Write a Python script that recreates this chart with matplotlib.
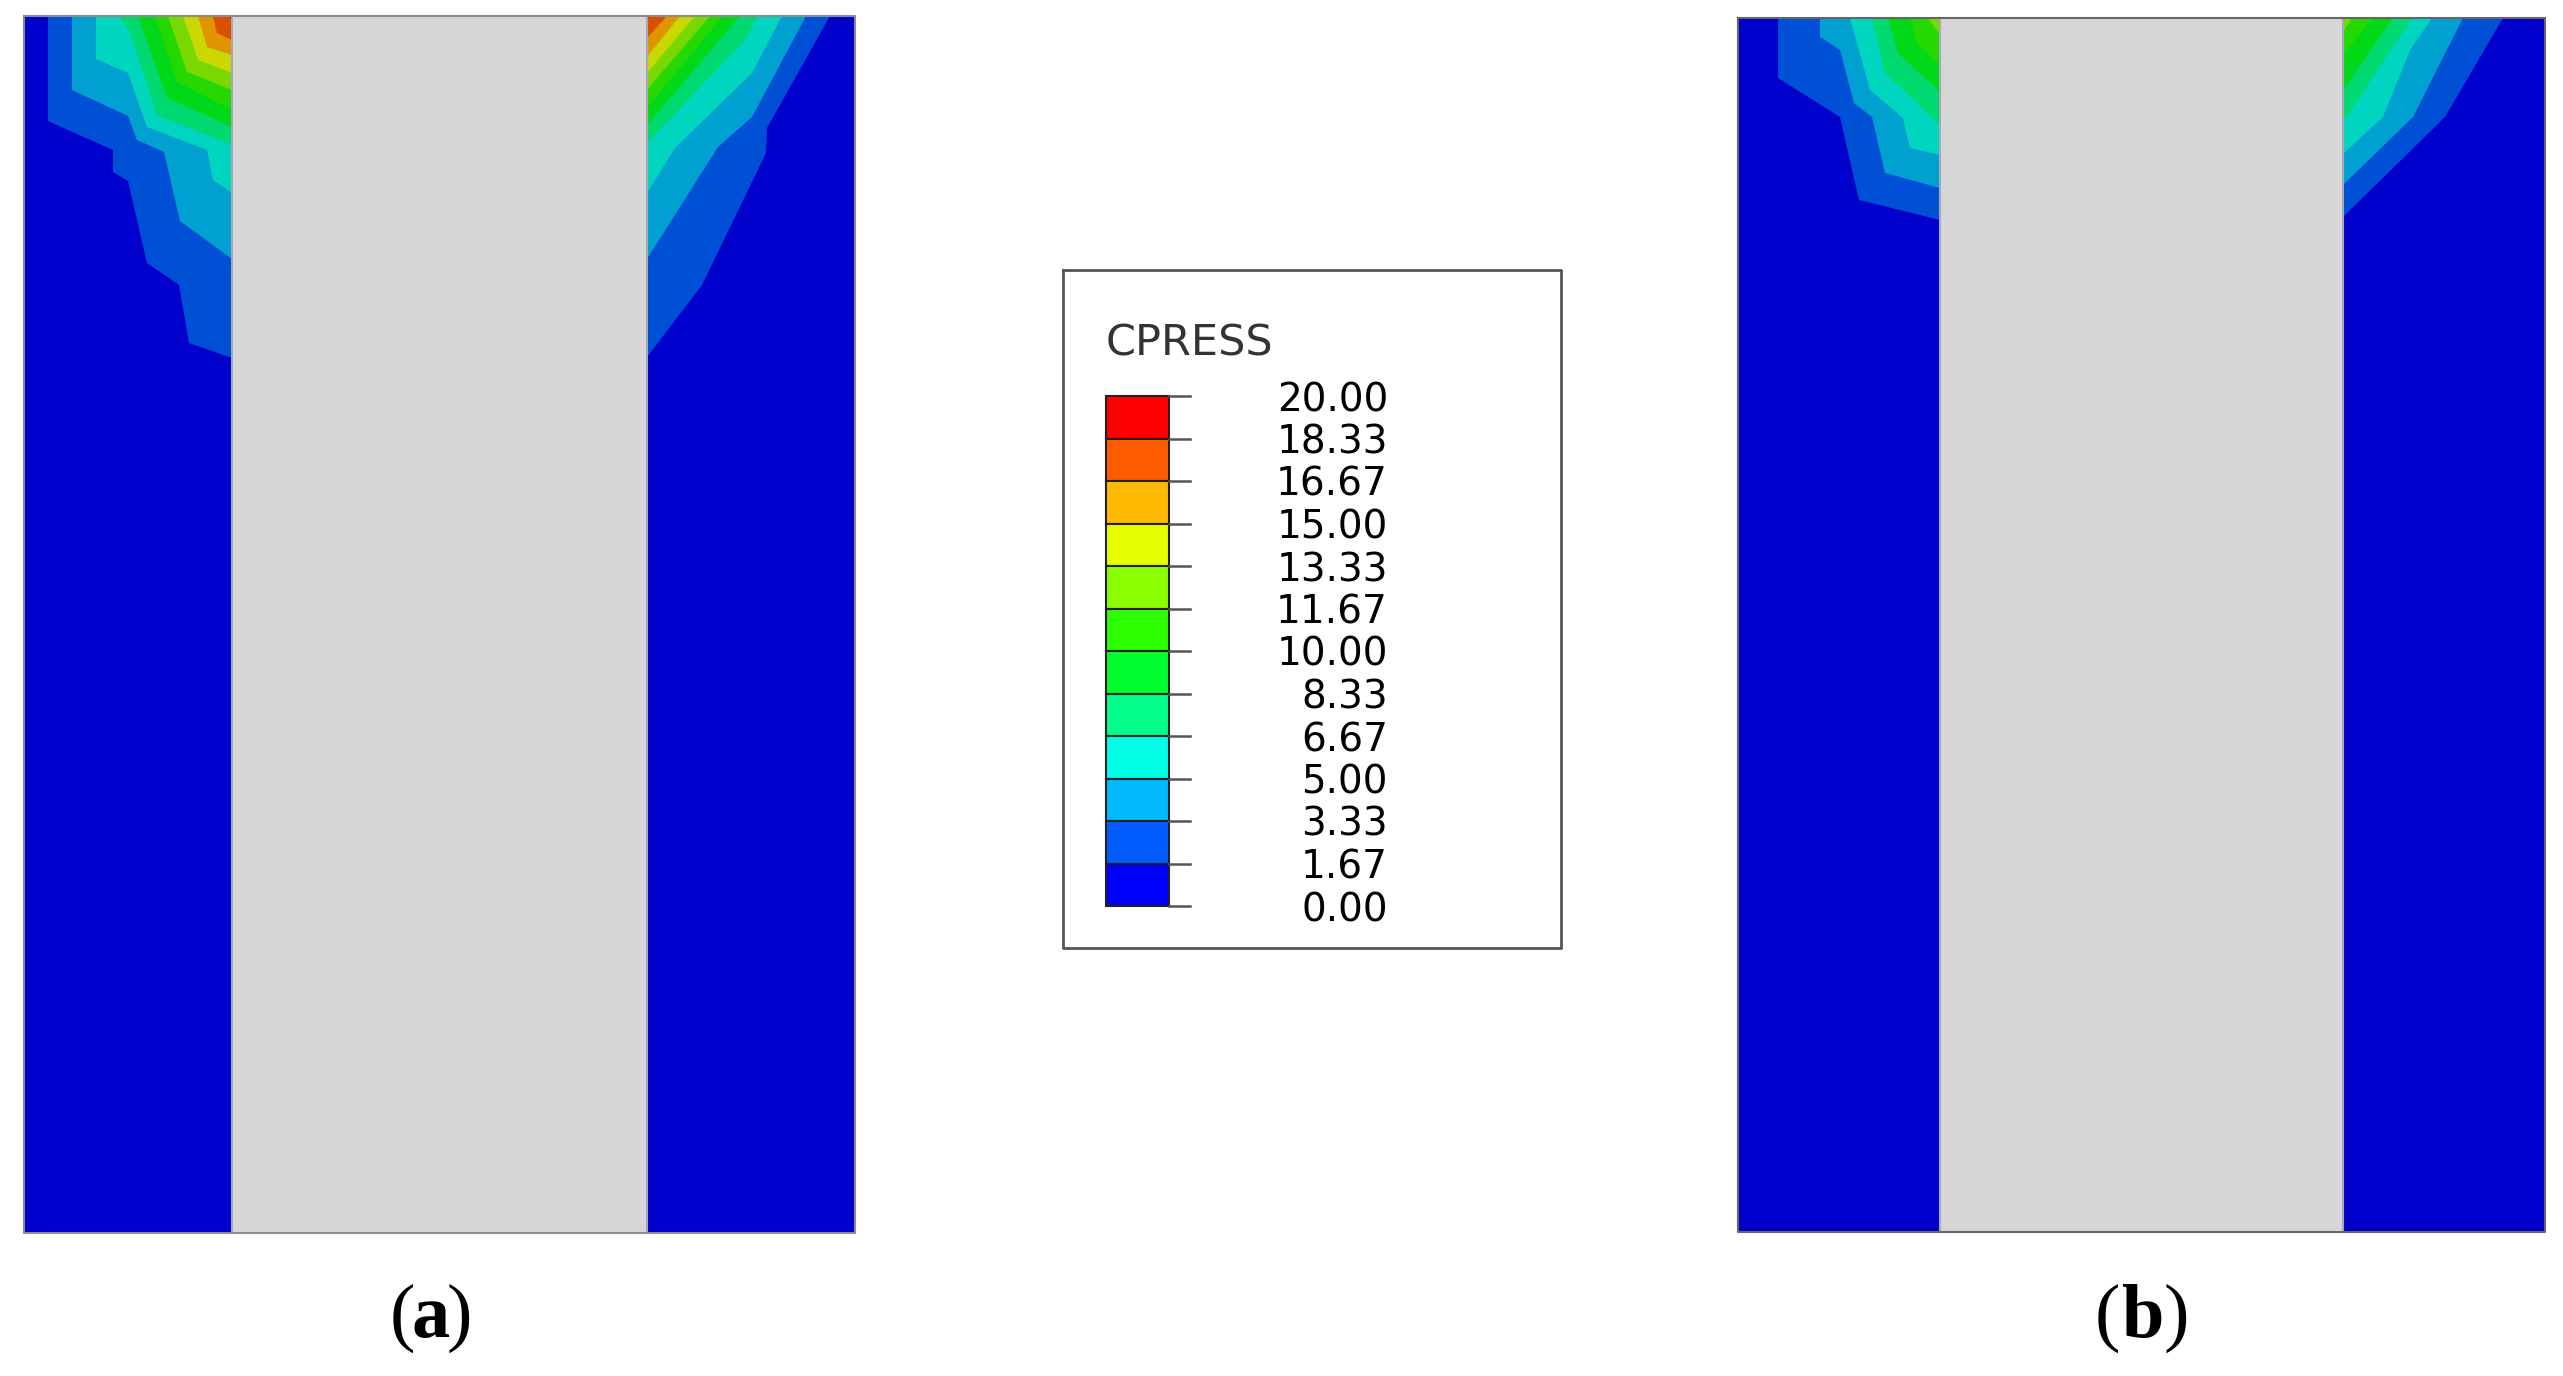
import matplotlib
matplotlib.use('Agg')
import matplotlib.pyplot as plt

# contour bands, low to high
band_colors = ['#0050d5', '#00a0d0', '#00d5c0', '#00d870', '#00d818', '#25d800',
               '#78d800', '#c8d800', '#e09500', '#d85000', '#d80000']
base_color = '#0000cd'
pile_color = '#d6d6d6'

# contour lines (x, y in pixels), one list per level
a_left = [
    [(48, 16), (48, 121), (113, 150), (113, 172), (128, 181), (147, 263), (179, 285), (189, 343), (232, 358)],
    [(72, 16), (72, 90), (128, 116), (137, 140), (164, 152), (180, 221), (232, 259)],
    [(96, 16), (96, 59), (128, 73), (147, 127), (207, 150), (213, 180), (232, 193)],
    [(120, 16), (131, 35), (157, 115), (232, 145)],
    [(138, 16), (167, 98), (232, 127)],
    [(155, 16), (177, 82), (232, 110)],
    [(168, 16), (187, 72), (232, 90)],
    [(183, 16), (198, 60), (232, 73)],
    [(198, 16), (207, 47), (232, 55)],
    [(213, 16), (217, 33), (232, 40)],
    [(228, 16), (232, 20)],
]
a_right = [
    [(830, 16), (767, 128), (766, 153), (702, 285), (647, 357)],
    [(806, 16), (752, 117), (718, 147), (647, 259)],
    [(782, 16), (752, 73), (675, 148), (647, 193)],
    [(758, 16), (745, 40), (647, 143)],
    [(740, 16), (647, 125)],
    [(723, 16), (647, 108)],
    [(710, 16), (647, 90)],
    [(695, 16), (647, 73)],
    [(680, 16), (647, 57)],
    [(667, 16), (647, 38)],
    [(650, 16), (647, 20)],
]
b_left = [
    [(1778, 18), (1778, 78), (1840, 117), (1859, 200), (1940, 220)],
    [(1820, 18), (1820, 37), (1840, 50), (1854, 103), (1872, 117), (1885, 173), (1940, 188)],
    [(1850, 18), (1870, 90), (1903, 118), (1910, 148), (1940, 155)],
    [(1872, 18), (1885, 73), (1940, 125)],
    [(1888, 18), (1898, 53), (1940, 92)],
    [(1910, 18), (1917, 43), (1940, 65)],
    [(1928, 18), (1940, 35)],
]
b_right = [
    [(2503, 18), (2445, 117), (2343, 217)],
    [(2463, 18), (2413, 117), (2343, 185)],
    [(2432, 18), (2410, 50), (2383, 117), (2343, 154)],
    [(2412, 18), (2343, 122)],
    [(2393, 18), (2343, 90)],
    [(2373, 18), (2343, 55)],
    [(2352, 18), (2343, 32)],
]

# legend
legend_title = 'CPRESS'
legend_labels = ['20.00', '18.33', '16.67', '15.00', '13.33', '11.67', '10.00',
                 '8.33', '6.67', '5.00', '3.33', '1.67', '0.00']
legend_colors = ['#ff0000', '#ff5c00', '#ffb900', '#e6ff00', '#8bff00', '#2eff00',
                 '#00ff2e', '#00ff8b', '#00ffe6', '#00b9ff', '#005cff', '#0000ff']

fig = plt.figure(figsize=(25.63, 13.76), dpi=100)
ax = fig.add_axes([0, 0, 1, 1])
ax.set_xlim(0, 2563)
ax.set_ylim(1376, 0)
ax.axis('off')


def draw_panel(x0, x1, y0, y1, pile0, pile1, left, right, edge):
    ax.fill([x0, x1, x1, x0], [y0, y0, y1, y1], color=base_color, lw=0)
    for lines, corner in ((left, pile0), (right, pile1)):
        for line, col in zip(lines, band_colors):
            xs = [p[0] for p in line] + [corner]
            ys = [p[1] for p in line] + [y0]
            ax.fill(xs, ys, color=col, lw=0)
    ax.fill([pile0, pile1, pile1, pile0], [y0, y0, y1, y1], color=pile_color, lw=0)
    ax.plot([pile0, pile0], [y0, y1], color='#a8a8b8', lw=1.5)
    ax.plot([pile1, pile1], [y0, y1], color='#a8a8b8', lw=1.5)
    ax.plot([x0, x1, x1, x0, x0], [y0, y0, y1, y1, y0], color=edge, lw=1.5)


draw_panel(24, 855, 16, 1233, 232, 647, a_left, a_right, '#8c8c8c')
draw_panel(1738, 2545, 18, 1232, 1940, 2343, b_left, b_right, '#666666')

# legend box
ax.plot([1063, 1561, 1561, 1063, 1063], [270, 270, 948, 948, 270], color='#555555', lw=2)
ax.text(1106, 355, legend_title, fontsize=31, color='#333333', family='DejaVu Sans',
        ha='left', va='baseline')

bar_top = 396
bar_step = (906 - 396) / len(legend_colors)
for i, col in enumerate(legend_colors):
    ax.bar(1137, bar_step, width=63, bottom=bar_top + i * bar_step, color=col,
           edgecolor='#222222', lw=1.5)
for i, lab in enumerate(legend_labels):
    y = bar_top + i * bar_step
    ax.plot([1169, 1190], [y, y], color='#555555', lw=1.8)
    ax.text(1388, y, lab, fontsize=28, color='black', family='DejaVu Sans',
            ha='right', va='center_baseline')

# panel captions, bold letter between plain brackets
serif = 'Liberation Serif'
for cx, letter in ((431, 'a'), (2142, 'b')):
    half = 18 if letter == 'a' else 24
    ax.text(cx - half + 2, 1337, '(', fontsize=55, family=serif, ha='right', va='baseline')
    ax.text(cx, 1337, letter, fontsize=55, family=serif, weight='bold', ha='center', va='baseline')
    ax.text(cx + half - 2, 1337, ')', fontsize=55, family=serif, ha='left', va='baseline')

fig.savefig('out.png', dpi=100, facecolor='white')
